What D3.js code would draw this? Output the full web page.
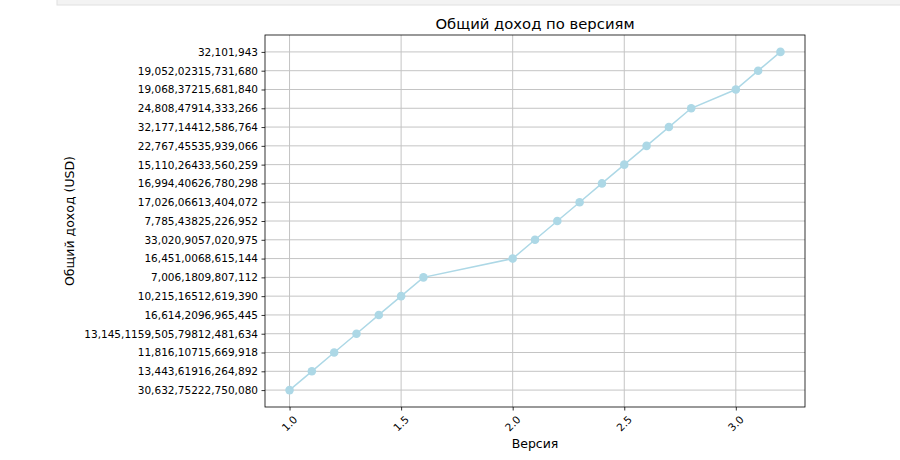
<!DOCTYPE html>
<meta charset="utf-8">
<script src="https://cdn.jsdelivr.net/npm/d3@7"></script>
<style>
body { margin: 0; background: #fff; }
text { font-family: "DejaVu Sans", sans-serif; fill: #000; }
.grid line { stroke: #c4c4c4; stroke-width: 1; }
</style>
<body>
<script>

// versions (x) and revenue labels (categorical y, bottom to top)
var versions = [1.0, 1.1, 1.2, 1.3, 1.4, 1.5, 1.6, 2.0, 2.1, 2.2, 2.3, 2.4, 2.5, 2.6, 2.7, 2.8, 3.0, 3.1, 3.2];
var revenue = [
  "30,632,75222,750,080",
  "13,443,61916,264,892",
  "11,816,10715,669,918",
  "13,145,1159,505,79812,481,634",
  "16,614,2096,965,445",
  "10,215,16512,619,390",
  "7,006,1809,807,112",
  "16,451,0068,615,144",
  "33,020,9057,020,975",
  "7,785,43825,226,952",
  "17,026,06613,404,072",
  "16,994,40626,780,298",
  "15,110,26433,560,259",
  "22,767,45535,939,066",
  "32,177,14412,586,764",
  "24,808,47914,333,266",
  "19,068,37215,681,840",
  "19,052,02315,731,680",
  "32,101,943"
];
var xTicks = [1.0, 1.5, 2.0, 2.5, 3.0];

var width = 900, height = 460;
var mLeft = 265, mRight = 805, mTop = 35, mBottom = 407;

var svg = d3.select("body").append("svg")
    .attr("width", width)
    .attr("height", height);

// notebook cell strip at the top
svg.append("rect")
    .attr("x", 57).attr("y", -1)
    .attr("width", 850).attr("height", 6)
    .attr("fill", "#f3f3f3")
    .attr("stroke", "#e0e0e0");

var x = d3.scaleLinear()
    .domain([0.89, 3.31])
    .range([mLeft, mRight]);

var y = d3.scalePoint()
    .domain(revenue)
    .range([mBottom, mTop])
    .padding(0.9);

// grid
var grid = svg.append("g").attr("class", "grid");
grid.selectAll(".gx")
    .data(xTicks)
  .enter().append("line")
    .attr("x1", function(d) { return x(d); })
    .attr("x2", function(d) { return x(d); })
    .attr("y1", mTop).attr("y2", mBottom);
grid.selectAll(".gy")
    .data(revenue)
  .enter().append("line")
    .attr("x1", mLeft).attr("x2", mRight)
    .attr("y1", function(d) { return y(d); })
    .attr("y2", function(d) { return y(d); });

// axes
var xAxis = svg.append("g")
    .attr("transform", "translate(0," + mBottom + ")")
    .call(d3.axisBottom(x).tickValues(xTicks).tickFormat(d3.format(".1f")).tickSize(3.5).tickPadding(4));
xAxis.select(".domain").remove();
xAxis.selectAll("text")
    .style("font-size", "10.5px")
    .attr("text-anchor", "middle")
    .attr("dy", null)
    .attr("y", 0)
    .attr("transform", "translate(0,17) rotate(-45)")
    .attr("dominant-baseline", "middle");

var yAxis = svg.append("g")
    .attr("transform", "translate(" + mLeft + ",0)")
    .call(d3.axisLeft(y).tickSize(3.5).tickPadding(3.5));
yAxis.select(".domain").remove();
yAxis.selectAll("text").style("font-size", "10.5px");

svg.selectAll(".tick line").attr("stroke", "#000").attr("stroke-width", 0.8);

// frame
svg.append("rect")
    .attr("x", mLeft).attr("y", mTop)
    .attr("width", mRight - mLeft).attr("height", mBottom - mTop)
    .attr("fill", "none")
    .attr("stroke", "#000")
    .attr("stroke-width", 0.8);

// line and markers
var pts = versions.map(function(v, i) { return [v, revenue[i]]; });

svg.append("path")
    .datum(pts)
    .attr("fill", "none")
    .attr("stroke", "#add8e6")
    .attr("stroke-width", 1.5)
    .attr("d", d3.line()
        .x(function(d) { return x(d[0]); })
        .y(function(d) { return y(d[1]); }));

svg.selectAll(".dot")
    .data(pts)
  .enter().append("circle")
    .attr("cx", function(d) { return x(d[0]); })
    .attr("cy", function(d) { return y(d[1]); })
    .attr("r", 4.3)
    .attr("fill", "#add8e6");

// labels
svg.append("text")
    .attr("x", (mLeft + mRight) / 2)
    .attr("y", 29)
    .attr("text-anchor", "middle")
    .style("font-size", "14.8px")
    .text("Общий доход по версиям");

svg.append("text")
    .attr("x", (mLeft + mRight) / 2)
    .attr("y", 448)
    .attr("text-anchor", "middle")
    .style("font-size", "12.5px")
    .text("Версия");

svg.append("text")
    .attr("transform", "translate(74," + ((mTop + mBottom) / 2) + ") rotate(-90)")
    .attr("text-anchor", "middle")
    .style("font-size", "12.5px")
    .text("Общий доход (USD)");

</script>
</body>
</html>
